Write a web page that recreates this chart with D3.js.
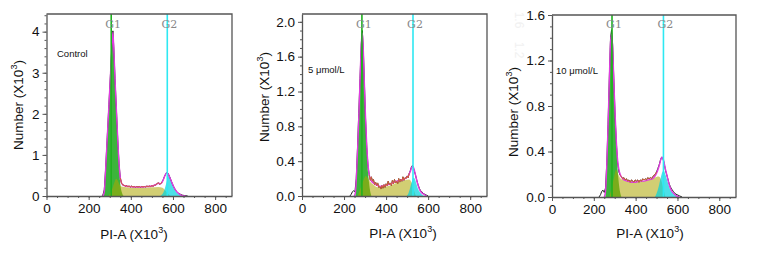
<!DOCTYPE html>
<html lang="en">
<head>
<meta charset="utf-8">
<title>Cell cycle histograms</title>
<script src="https://d3js.org/d3.v7.min.js"></script>
<style>
  body { margin: 0; background: #fff; }
  svg { display: block; }
  text { font-family: Arial, "Liberation Sans", sans-serif; fill: #111; }
  .gate { font-family: "DejaVu Serif", "Liberation Serif", serif; fill: #888; }
  .axis path, .axis line { stroke: #555; }
</style>
</head>
<body>
<svg id="chart" width="757" height="254"></svg>
<script>
// ---- data (x in PI-A x10^3, y in counts x10^3) ----
var panelLabels = ["Control", "5 \u03bcmol/L", "10 \u03bcmol/L"];
var xTicks = [0, 200, 400, 600, 800];
var yMaxes = [4.43, 2.09, 1.6];
var yTicks1 = [0, 1, 2, 3, 4];
var yTicks2 = [0, 0.4, 0.8, 1.2, 1.6, 2.0];
var yTicks3 = [0, 0.4, 0.8, 1.2, 1.6];
var gateG1 = [307, 285, 287];
var gateG2 = [573, 528, 533];
var sRange = [[345, 552], [318, 512], [322, 500]];

// Control
var dataControl = [[262,0],[268,0.03],[274,0.15],[280,0.62],[288,1.42],[296,2.22],[304,3.02],[311,3.72],[315,4.02],[319,3.64],[325,2.86],[332,2.06],[338,1.38],[344,0.8],[350,0.44],[356,0.31],[362,0.27],[368,0.26],[374,0.24],[380,0.25],[386,0.23],[392,0.24],[398,0.22],[404,0.24],[410,0.22],[416,0.23],[422,0.21],[428,0.23],[434,0.22],[440,0.23],[446,0.21],[452,0.23],[458,0.22],[464,0.23],[470,0.22],[476,0.24],[482,0.23],[488,0.24],[494,0.23],[500,0.25],[506,0.24],[512,0.26],[518,0.27],[524,0.3],[530,0.32],[536,0.29],[542,0.3],[548,0.34],[554,0.4],[560,0.48],[566,0.54],[572,0.58],[578,0.54],[584,0.47],[590,0.39],[596,0.31],[602,0.24],[608,0.18],[614,0.13],[620,0.09],[628,0.06],[636,0.04],[645,0.02],[656,0.01],[670,0]];
var fitControl = [[268,0],[274,0.1],[280,0.6],[288,1.4],[296,2.2],[304,3.0],[311,3.7],[315,3.98],[319,3.62],[325,2.85],[332,2.05],[338,1.38],[344,0.8],[350,0.45],[356,0.32],[362,0.27],[372,0.25],[390,0.23],[420,0.22],[450,0.22],[480,0.23],[505,0.25],[520,0.28],[532,0.31],[540,0.3],[548,0.33],[556,0.42],[564,0.52],[571,0.57],[577,0.54],[584,0.46],[592,0.36],[600,0.26],[610,0.16],[620,0.09],[632,0.04],[645,0.01],[660,0]];
var g1Control = [[272,0],[280,0.6],[288,1.4],[296,2.2],[304,3.0],[311,3.7],[315,4.0],[319,3.6],[325,2.8],[332,2.0],[338,1.3],[344,0.7],[350,0.3],[358,0.08],[366,0]];
var sControl = [[295,0],[310,0.15],[322,0.33],[330,0.42],[338,0.38],[346,0.28],[356,0.23],[380,0.21],[420,0.2],[460,0.2],[500,0.21],[530,0.22],[550,0.2],[565,0.13],[578,0.05],[588,0]];
var g2Control = [[540,0],[550,0.05],[558,0.13],[566,0.27],[574,0.42],[580,0.5],[586,0.47],[594,0.35],[604,0.2],[614,0.11],[626,0.05],[640,0.01],[650,0]];

// 5 umol/L
var data5 = [[228,0],[234,0.02],[240,0.05],[246,0.06],[252,0.05],[258,0.2],[264,0.55],[270,0.95],[276,1.35],[282,1.75],[287,1.9],[292,1.66],[297,1.28],[302,0.9],[308,0.56],[314,0.34],[320,0.24],[325,0.18],[330,0.22],[335,0.17],[340,0.19],[345,0.13],[350,0.16],[355,0.12],[360,0.15],[365,0.1],[370,0.11],[375,0.08],[380,0.12],[385,0.09],[390,0.13],[395,0.1],[400,0.14],[405,0.12],[410,0.17],[415,0.13],[420,0.15],[425,0.12],[430,0.18],[435,0.14],[440,0.19],[445,0.15],[450,0.17],[455,0.14],[460,0.2],[465,0.16],[470,0.19],[475,0.17],[480,0.22],[485,0.18],[490,0.21],[495,0.2],[500,0.23],[505,0.21],[510,0.26],[515,0.29],[520,0.33],[525,0.35],[530,0.32],[535,0.28],[540,0.24],[546,0.18],[552,0.13],[558,0.09],[564,0.06],[570,0.05],[576,0.03],[584,0.02],[592,0.01],[600,0]];
var fit5 = [[248,0],[254,0.04],[260,0.28],[266,0.63],[272,1.03],[278,1.48],[284,1.82],[287,1.87],[291,1.72],[296,1.34],[302,0.92],[308,0.58],[314,0.36],[320,0.24],[326,0.19],[334,0.16],[345,0.14],[360,0.12],[375,0.11],[390,0.12],[410,0.13],[430,0.15],[450,0.17],[470,0.18],[490,0.2],[505,0.23],[515,0.28],[522,0.33],[528,0.34],[534,0.3],[542,0.22],[550,0.14],[558,0.08],[568,0.04],[580,0.02],[592,0]];
var g15 = [[254,0],[260,0.25],[266,0.6],[272,1.0],[278,1.45],[284,1.8],[287,1.88],[291,1.7],[296,1.3],[302,0.85],[308,0.5],[316,0.22],[324,0.06],[330,0]];
var s5 = [[265,0],[280,0.1],[292,0.18],[303,0.23],[312,0.21],[325,0.16],[340,0.13],[360,0.1],[380,0.1],[400,0.11],[430,0.13],[460,0.16],[490,0.18],[510,0.19],[522,0.15],[532,0.07],[542,0]];
var g25 = [[498,0],[506,0.03],[514,0.09],[522,0.16],[530,0.21],[536,0.2],[544,0.14],[552,0.08],[562,0.04],[574,0.01],[585,0]];

// 10 umol/L
var data10 = [[225,0],[232,0.02],[238,0.05],[244,0.06],[250,0.04],[256,0.08],[262,0.3],[268,0.64],[274,1.04],[280,1.4],[285,1.47],[290,1.34],[296,1.02],[302,0.7],[308,0.47],[314,0.3],[320,0.22],[326,0.19],[332,0.18],[338,0.16],[344,0.17],[350,0.15],[356,0.16],[362,0.14],[368,0.15],[374,0.13],[380,0.15],[386,0.14],[392,0.13],[398,0.15],[404,0.14],[410,0.15],[416,0.13],[422,0.15],[428,0.14],[434,0.16],[440,0.15],[446,0.16],[452,0.15],[458,0.17],[464,0.16],[470,0.17],[476,0.16],[482,0.18],[488,0.19],[494,0.2],[500,0.22],[506,0.25],[512,0.28],[518,0.32],[524,0.35],[530,0.34],[536,0.3],[542,0.24],[548,0.2],[554,0.16],[560,0.12],[566,0.09],[572,0.07],[580,0.05],[588,0.03],[598,0.02],[610,0.01],[622,0]];
var fit10 = [[250,0],[256,0.05],[262,0.28],[268,0.62],[274,1.02],[280,1.36],[285,1.43],[290,1.32],[296,1.0],[302,0.72],[308,0.48],[314,0.32],[320,0.24],[326,0.2],[334,0.17],[345,0.15],[360,0.14],[380,0.13],[400,0.13],[420,0.14],[440,0.14],[460,0.15],[480,0.16],[495,0.19],[505,0.23],[515,0.29],[522,0.34],[528,0.35],[534,0.32],[542,0.25],[551,0.18],[560,0.11],[570,0.06],[582,0.03],[595,0.01],[610,0]];
var g110 = [[255,0],[262,0.25],[268,0.6],[274,1.0],[280,1.35],[285,1.45],[290,1.3],[296,0.95],[302,0.65],[310,0.35],[318,0.15],[326,0.04],[332,0]];
var s10 = [[275,0],[290,0.12],[300,0.2],[306,0.24],[314,0.21],[325,0.17],[340,0.15],[380,0.14],[420,0.14],[460,0.15],[490,0.17],[510,0.18],[522,0.15],[532,0.08],[542,0]];
var g210 = [[492,0],[500,0.03],[510,0.09],[520,0.17],[528,0.22],[534,0.23],[542,0.2],[552,0.14],[562,0.08],[575,0.04],[590,0.01],[605,0]];

// ---- layout ----
var layout = [
  {left: 46.5, right: 232, top: 14, bottom: 196, yTitle: [18, 105], xTitle: [134, 239], label: [57, 57]},
  {left: 302, right: 487, top: 14, bottom: 196, yTitle: [264, 97], xTitle: [403, 238], label: [308, 73]},
  {left: 552, right: 736, top: 15, bottom: 197, yTitle: [513, 112], xTitle: [650, 238], label: [556, 74]}
];
var panels = [
  {data: dataControl, fit: fitControl, g1: g1Control, s: sControl, g2: g2Control, yTicks: yTicks1, minor: 0.2, fmt: d3.format("d")},
  {data: data5, fit: fit5, g1: g15, s: s5, g2: g25, yTicks: yTicks2, minor: 0.1, fmt: d3.format(".1f")},
  {data: data10, fit: fit10, g1: g110, s: s10, g2: g210, yTicks: yTicks3, minor: 0.1, fmt: d3.format(".1f")}
];

var svg = d3.select("#chart");

// faint ghost labels left over in the scan
[["1.6", 20], ["1.2", 50]].forEach(function(g) {
  svg.append("text").attr("transform", "translate(515," + g[1] + ") rotate(90)")
    .attr("text-anchor", "middle").style("fill", "#f1f1f1").attr("font-size", 12).text(g[0]);
});

panels.forEach(function(p, i) {
  var L = layout[i];
  var x = d3.scaleLinear().domain([0, 880]).range([L.left, L.right]);
  var y = d3.scaleLinear().domain([0, yMaxes[i]]).range([L.bottom, L.top]);
  var g = svg.append("g");

  var area = d3.area().x(d => x(d[0])).y0(y(0)).y1(d => y(d[1])).curve(d3.curveMonotoneX);
  var line = d3.line().x(d => x(d[0])).y(d => y(d[1])).curve(d3.curveMonotoneX);
  var rough = d3.line().x(d => x(d[0])).y(d => y(d[1]));

  // component fills
  g.append("path").attr("d", area(p.g1)).attr("fill", "#3cb43c");
  g.append("path").attr("d", area(p.s)).attr("fill", "#ada500").attr("fill-opacity", 0.55);
  g.append("path").attr("d", area(p.g2)).attr("fill", "#00d3de").attr("fill-opacity", 0.7);

  // histogram, fit, S-phase data
  g.append("path").attr("d", rough(p.data)).attr("fill", "none").attr("stroke", "#222").attr("stroke-width", 1);
  g.append("path").attr("d", line(p.fit)).attr("fill", "none").attr("stroke", "#e03ce0").attr("stroke-width", 1.4);
  var sPart = p.data.filter(d => d[0] >= sRange[i][0] && d[0] <= sRange[i][1]);
  g.append("path").attr("d", rough(sPart)).attr("fill", "none").attr("stroke", "#d0603a").attr("stroke-width", 1);

  // gate lines
  g.append("line").attr("x1", x(gateG1[i])).attr("x2", x(gateG1[i]))
    .attr("y1", L.top).attr("y2", L.bottom).attr("stroke", "#1fb21f").attr("stroke-width", 1.6);
  g.append("line").attr("x1", x(gateG2[i])).attr("x2", x(gateG2[i]))
    .attr("y1", L.top).attr("y2", L.bottom).attr("stroke", "#2ee8f2").attr("stroke-width", 1.6);
  g.append("text").attr("class", "gate").attr("x", x(gateG1[i]) + 2).attr("y", 28)
    .attr("text-anchor", "middle").attr("font-size", 11).text("G1");
  g.append("text").attr("class", "gate").attr("x", x(gateG2[i]) + 2).attr("y", 28)
    .attr("text-anchor", "middle").attr("font-size", 11).text("G2");

  // frame
  g.append("path").attr("d", "M" + L.left + "," + L.top + "H" + L.right + "V" + L.bottom)
    .attr("fill", "none").attr("stroke", "#555").attr("stroke-width", 1.3);

  // minor ticks
  var yMinor = d3.range(0, yMaxes[i] + 1e-9, p.minor);
  g.append("g").attr("class", "axis").attr("transform", "translate(" + L.left + ",0)")
    .call(d3.axisLeft(y).tickValues(yMinor).tickSize(2).tickFormat(""))
    .call(a => a.select(".domain").remove());
  g.append("g").attr("class", "axis").attr("transform", "translate(0," + L.bottom + ")")
    .call(d3.axisBottom(x).tickValues(d3.range(0, 881, 50)).tickSize(2).tickFormat(""))
    .call(a => a.select(".domain").remove());

  // major axes
  var ya = g.append("g").attr("class", "axis").attr("transform", "translate(" + L.left + ",0)")
    .call(d3.axisLeft(y).tickValues(p.yTicks).tickSize(4).tickPadding(3).tickFormat(p.fmt).tickSizeOuter(0));
  var xa = g.append("g").attr("class", "axis").attr("transform", "translate(0," + L.bottom + ")")
    .call(d3.axisBottom(x).tickValues(xTicks).tickSize(4).tickPadding(3).tickSizeOuter(0));
  [ya, xa].forEach(function(a) {
    a.select(".domain").attr("stroke-width", 1.3);
    a.selectAll("text").attr("font-size", 13.5).style("font-family", "Arial, 'Liberation Sans', sans-serif").attr("fill", "#111");
  });

  // titles
  var yt = svg.append("text").attr("transform", "translate(" + L.yTitle[0] + "," + L.yTitle[1] + ") rotate(-90)")
    .attr("text-anchor", "middle").attr("dy", "0.35em").attr("font-size", 13.5);
  yt.append("tspan").text("Number (X10");
  yt.append("tspan").attr("font-size", 9).attr("dy", -6).text("3");
  yt.append("tspan").attr("dy", 6).text(")");

  var xt = svg.append("text").attr("x", L.xTitle[0]).attr("y", L.xTitle[1])
    .attr("text-anchor", "middle").attr("font-size", 13.5);
  xt.append("tspan").text("PI-A (X10");
  xt.append("tspan").attr("font-size", 9).attr("dy", -6).text("3");
  xt.append("tspan").attr("dy", 6).text(")");

  svg.append("text").attr("x", L.label[0]).attr("y", L.label[1]).attr("font-size", 9.5).text(panelLabels[i]);
});
</script>
</body>
</html>
